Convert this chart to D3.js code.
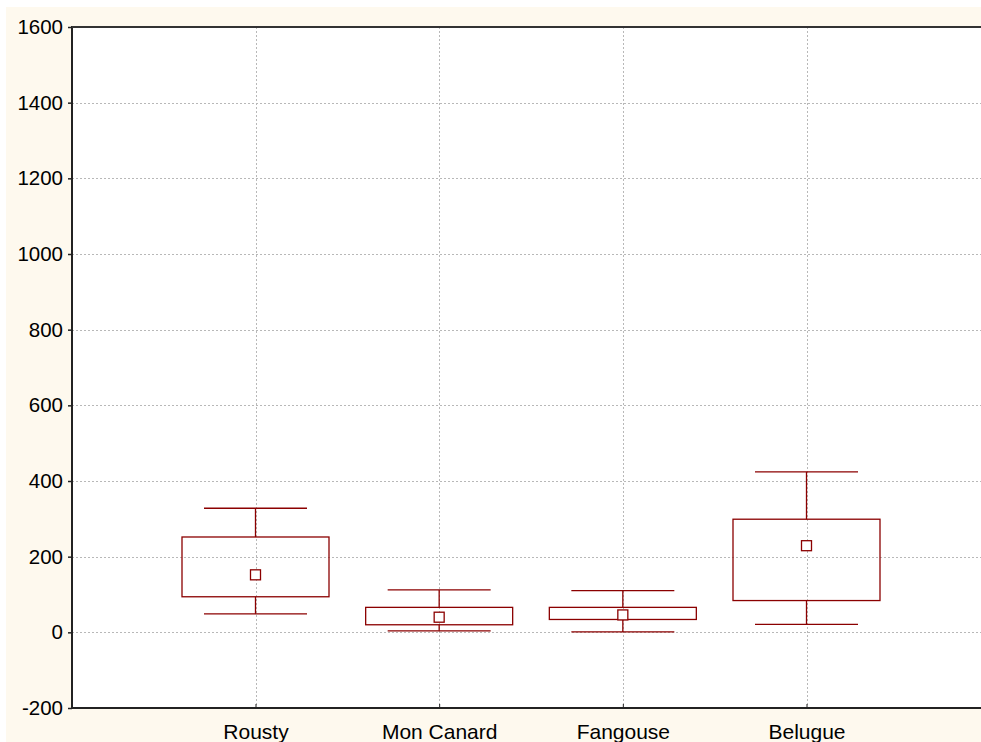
<!DOCTYPE html>
<html>
<head>
<meta charset="utf-8">
<script src="https://cdn.jsdelivr.net/npm/d3@7"></script>
<style>
  body { margin: 0; background: #fff; }
  text { font-family: "Liberation Sans", Arial, sans-serif; }
</style>
</head>
<body>
<div class="box-figure"></div>
<script>
// data
let categories = ["Rousty", "Mon Canard", "Fangouse", "Belugue"];
let whiskerLow = [49, 4, 1, 21];
let boxLow = [94, 20, 34, 84];
let means = [152, 40, 46, 229];
let boxHigh = [252, 66, 66, 299];
let whiskerHigh = [328, 112, 110, 424];
let yTicks = [-200, 0, 200, 400, 600, 800, 1000, 1200, 1400, 1600];

let W = 981, H = 742;
let margin = {top: 27, right: 0, bottom: 34, left: 72},
  width = W - margin.left - margin.right,
  height = H - margin.top - margin.bottom;

let boxColor = "#8b0000";

let svg = d3.select(".box-figure")
  .append("svg")
  .attr("width", W)
  .attr("height", H);

// cream background
svg.append("rect")
  .attr("x", 6).attr("y", 7)
  .attr("width", W - 6).attr("height", H - 7)
  .attr("fill", "#fef9ee");

let g = svg.append("g")
  .attr("transform", "translate(" + margin.left + "," + margin.top + ")");

g.append("rect")
  .attr("width", width).attr("height", height)
  .attr("fill", "#fff");

let y = d3.scaleLinear()
  .domain([-200, 1600])
  .range([height, 0]);

let x = d3.scalePoint()
  .domain(categories)
  .range([183.5, 734.5]);

// grid
g.selectAll(".hgrid")
  .data(yTicks.slice(1, -1))
  .enter().append("line")
  .attr("x1", 0).attr("x2", width)
  .attr("y1", d => Math.round(y(d)) + 0.5)
  .attr("y2", d => Math.round(y(d)) + 0.5)
  .attr("stroke", "#b8b8b8")
  .attr("stroke-dasharray", "2,2");

g.selectAll(".vgrid")
  .data(categories)
  .enter().append("line")
  .attr("x1", d => Math.round(x(d)) + 0.5)
  .attr("x2", d => Math.round(x(d)) + 0.5)
  .attr("y1", 0).attr("y2", height)
  .attr("stroke", "#b8b8b8")
  .attr("stroke-dasharray", "2,2");

// y axis
let yAxis = g.append("g")
  .call(d3.axisLeft(y).tickValues(yTicks).tickSize(4).tickPadding(5)
    .tickFormat(d => String(d)));
yAxis.select(".domain").remove();
yAxis.selectAll("line").attr("stroke", "#222").attr("stroke-width", 1.5);
yAxis.selectAll("text")
  .style("font-size", "20.5px")
  .attr("fill", "#000");

// x axis
let xAxis = g.append("g")
  .attr("transform", "translate(0," + height + ")")
  .call(d3.axisBottom(x).tickSize(-4).tickPadding(16));
xAxis.select(".domain").remove();
xAxis.selectAll("line").attr("stroke", "#222");
xAxis.selectAll("text")
  .style("font-size", "21px")
  .attr("fill", "#000");

// frame
g.append("line").attr("x1", 0).attr("x2", 0).attr("y1", -1).attr("y2", height + 1)
  .attr("stroke", "#222").attr("stroke-width", 2);
g.append("line").attr("x1", 0).attr("x2", width).attr("y1", 0).attr("y2", 0)
  .attr("stroke", "#333").attr("stroke-width", 2);
g.append("line").attr("x1", 0).attr("x2", width).attr("y1", height).attr("y2", height)
  .attr("stroke", "#222").attr("stroke-width", 2);

// boxes
let rows = categories.map((c, i) => ({
  name: c, wLo: whiskerLow[i], lo: boxLow[i], mean: means[i], hi: boxHigh[i], wHi: whiskerHigh[i]
}));

let boxW = 147, capW = 103, mk = 10;

let bx = g.selectAll(".bx")
  .data(rows)
  .enter().append("g")
  .attr("transform", d => "translate(" + x(d.name) + ",0)");

bx.append("line")
  .attr("x1", 0).attr("x2", 0)
  .attr("y1", d => y(d.wHi)).attr("y2", d => y(d.hi))
  .attr("stroke", boxColor).attr("stroke-width", 1.3);
bx.append("line")
  .attr("x1", 0).attr("x2", 0)
  .attr("y1", d => y(d.lo)).attr("y2", d => y(d.wLo))
  .attr("stroke", boxColor).attr("stroke-width", 1.3);
bx.append("line")
  .attr("x1", -capW / 2).attr("x2", capW / 2)
  .attr("y1", d => y(d.wHi)).attr("y2", d => y(d.wHi))
  .attr("stroke", boxColor).attr("stroke-width", 1.3);
bx.append("line")
  .attr("x1", -capW / 2).attr("x2", capW / 2)
  .attr("y1", d => y(d.wLo)).attr("y2", d => y(d.wLo))
  .attr("stroke", boxColor).attr("stroke-width", 1.3);
bx.append("rect")
  .attr("x", -boxW / 2).attr("width", boxW)
  .attr("y", d => y(d.hi))
  .attr("height", d => y(d.lo) - y(d.hi))
  .attr("fill", "none")
  .attr("stroke", boxColor).attr("stroke-width", 1.3);
bx.append("rect")
  .attr("x", -mk / 2).attr("width", mk)
  .attr("y", d => y(d.mean) - mk / 2)
  .attr("height", mk)
  .attr("fill", "#fff")
  .attr("stroke", boxColor).attr("stroke-width", 1.3);
</script>
</body>
</html>
